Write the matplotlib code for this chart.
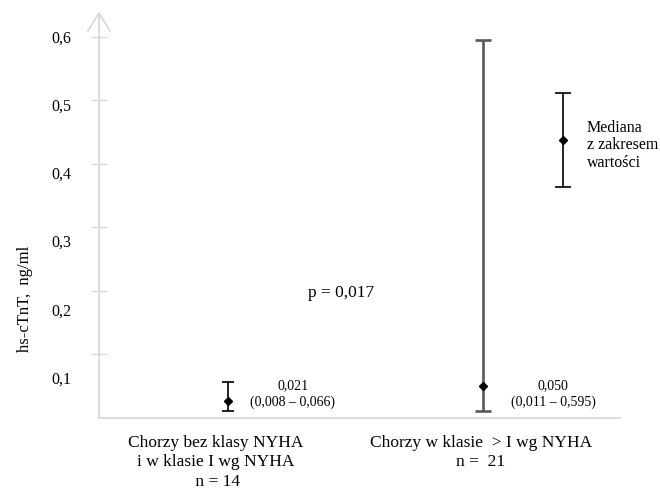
import matplotlib
matplotlib.use("Agg")
from matplotlib import pyplot as plt
from matplotlib import transforms as mtransforms

plt.rcParams["font.family"] = ["Liberation Serif", "DejaVu Serif"]

# group positions on the x axis
GROUP_X = [0.0, 1.0]
GROUP_LABELS = [
    "Chorzy bez klasy NYHA\ni w klasie I wg NYHA\n n = 14",
    "Chorzy w klasie  > I wg NYHA\nn =  21",
]
# medians and ranges as drawn (ng/ml)
MEDIANS = [0.027, 0.050]
LOWS = [0.011, 0.011]
HIGHS = [0.057, 0.595]
ANNOTATIONS = ["0,021\n(0,008 \u2013 0,066)", "0,050\n(0,011 \u2013 0,595)"]

# legend sample bar
LEGEND_X = 1.314
LEGEND_MEDIAN = 0.438
LEGEND_LOW = 0.364
LEGEND_HIGH = 0.512
LEGEND_TEXT = "Mediana\nz zakresem\nwarto\u015bci"

P_TEXT = "p = 0,017"
Y_TICKS = [0.1, 0.2, 0.3, 0.4, 0.5, 0.6]
Y_TICK_LABELS = ["0,1", "0,2", "0,3", "0,4", "0,5", "0,6"]

AXIS_GREY = "#d9d9d9"

fig = plt.figure(figsize=(6.6, 4.9), dpi=100)
ax = fig.add_axes([0.15, 0.147, 0.789, 0.830])
ax.set_xlim(-0.506, 1.537)
ax.set_ylim(0, 0.64)

for side in ("top", "right", "left"):
    ax.spines[side].set_visible(False)
ax.spines["bottom"].set_color(AXIS_GREY)
ax.spines["bottom"].set_linewidth(1.3)

# y axis drawn as an open arrow
ax.annotate("", xy=(0, 1), xytext=(0, 0), xycoords="axes fraction",
            arrowprops=dict(arrowstyle="->,head_length=1.3,head_width=0.8",
                            color=AXIS_GREY, lw=1.3, shrinkA=0, shrinkB=0))

ax.set_xticks([])
ax.set_yticks(Y_TICKS, Y_TICK_LABELS)
ax.tick_params(axis="y", direction="inout", length=12, width=1,
               color=AXIS_GREY, labelsize=11.5, pad=14)
# the labels in the source sit a little lower the further down they are
for val, lab in zip(Y_TICKS, ax.get_yticklabels()):
    shift = -(0.6 - val) * 46 / 100
    lab.set_transform(lab.get_transform()
                      + mtransforms.ScaledTranslation(0, shift, fig.dpi_scale_trans))

ax.text(-0.142, 0.292, "hs-cTnT,  ng/ml", transform=ax.transAxes,
        rotation=90, ha="center", va="center", fontsize=12)

styles = [dict(color="black", lw=1.2, capsize=4),
          dict(color="#595959", lw=1.9, capsize=6)]
for x, med, lo, hi, st in zip(GROUP_X, MEDIANS, LOWS, HIGHS, styles):
    ax.errorbar([x], [med], yerr=[[med - lo], [hi - med]], fmt="none",
                ecolor=st["color"], elinewidth=st["lw"], capthick=st["lw"],
                capsize=st["capsize"])
    ax.plot([x], [med], marker="D", color="black", markersize=4.5, linestyle="none")

ax.errorbar([LEGEND_X], [LEGEND_MEDIAN],
            yerr=[[LEGEND_MEDIAN - LEGEND_LOW], [LEGEND_HIGH - LEGEND_MEDIAN]],
            fmt="none", ecolor="black", elinewidth=1.2, capthick=1.2, capsize=5.5)
ax.plot([LEGEND_X], [LEGEND_MEDIAN], marker="D", color="black", markersize=4.5)
ax.text(LEGEND_X + 0.094, 0.429, LEGEND_TEXT, ha="left", va="center",
        fontsize=11.5, linespacing=1.13)

ann_dx = [0.255, 0.275]
for x, dx, txt in zip(GROUP_X, ann_dx, ANNOTATIONS):
    ax.text(x + dx, 0.038, txt, ha="center", va="center", fontsize=10,
            linespacing=1.3)

ax.text(0.443, 0.197, P_TEXT, ha="center", va="center", fontsize=12.5)

label_x = [-0.047, 0.992]
for x, txt in zip(label_x, GROUP_LABELS):
    ax.text(x, -0.041, txt, transform=ax.get_xaxis_transform(),
            ha="center", va="top", fontsize=12.5, linespacing=1.3)

fig.savefig("out.png", dpi=100)
